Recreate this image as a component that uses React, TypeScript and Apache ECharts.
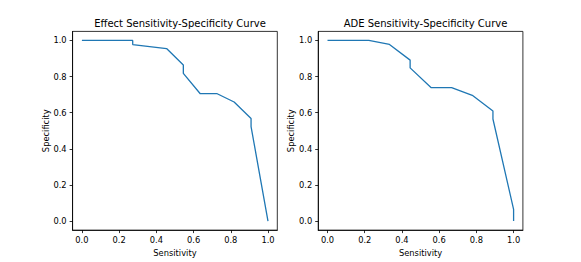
import React, { useEffect, useRef } from "react";
import * as echarts from "echarts";

const effectSensitivity = [0, 0.273, 0.273, 0.455, 0.545, 0.545, 0.636, 0.727, 0.818, 0.909, 0.909, 1.0];
const effectSpecificity = [1.0, 1.0, 0.977, 0.955, 0.864, 0.818, 0.705, 0.705, 0.659, 0.568, 0.523, 0.0];

const adeSensitivity = [0, 0.222, 0.333, 0.444, 0.444, 0.556, 0.667, 0.778, 0.889, 0.889, 1.0, 1.0];
const adeSpecificity = [1.0, 1.0, 0.978, 0.891, 0.848, 0.739, 0.739, 0.696, 0.609, 0.565, 0.065, 0.0];

const tickValues = [0, 0.2, 0.4, 0.6, 0.8, 1.0];
const titles = ["Effect Sensitivity-Specificity Curve", "ADE Sensitivity-Specificity Curve"];

const FONT = "DejaVu Sans";

export default function App() {
  const ref = useRef<HTMLDivElement>(null);
  useEffect(() => {
    if (!ref.current) return;
    const chart = echarts.init(ref.current, undefined, { renderer: "svg" });
    const grids = [
      { left: 72.6, top: 31.4, width: 204.7, height: 201.8 },
      { left: 318.2, top: 31.4, width: 204.7, height: 201.8 },
    ];
    const axisCommon = (gridIndex: number, name: string, isX: boolean) => ({
      gridIndex,
      type: "value",
      min: -0.05,
      max: 1.05,
      name,
      nameLocation: "middle",
      nameGap: isX ? 16 : 22,
      nameTextStyle: { color: "#000", fontSize: 8.3, fontFamily: FONT },
      axisLine: { show: true, onZero: false, lineStyle: { color: "#000", width: 0.8 } },
      axisTick: { show: true, length: 3, lineStyle: { color: "#000", width: 0.8 }, customValues: tickValues },
      axisLabel: {
        customValues: tickValues,
        formatter: (v: number) => v.toFixed(1),
        color: "#000",
        fontSize: 8.3,
        fontFamily: FONT,
        margin: 6,
      },
      splitLine: { show: false },
    });
    const makeData = (xs: number[], ys: number[]) => xs.map((x, i) => [x, ys[i]]);
    chart.setOption({
      animation: false,
      backgroundColor: "#fff",
      title: titles.map((t, i) => ({
        text: t,
        left: i === 0 ? 175 : 420.5,
        textAlign: "center",
        top: 13.5,
        textStyle: { color: "#000", fontSize: 10, fontWeight: "normal", fontFamily: FONT },
      })),
      grid: grids.map((g) => ({ ...g, show: true, borderColor: "#000", borderWidth: 0.8, backgroundColor: "transparent" })),
      xAxis: [axisCommon(0, "Sensitivity", true), axisCommon(1, "Sensitivity", true)],
      yAxis: [axisCommon(0, "Specificity", false), axisCommon(1, "Specificity", false)],
      series: [
        {
          type: "line",
          xAxisIndex: 0,
          yAxisIndex: 0,
          data: makeData(effectSensitivity, effectSpecificity),
          showSymbol: false,
          lineStyle: { color: "#1f77b4", width: 1.3 },
        },
        {
          type: "line",
          xAxisIndex: 1,
          yAxisIndex: 1,
          data: makeData(adeSensitivity, adeSpecificity),
          showSymbol: false,
          lineStyle: { color: "#1f77b4", width: 1.3 },
        },
      ],
    });
    return () => chart.dispose();
  }, []);
  return <div ref={ref} style={{ position: "absolute", left: 0, top: 0, width: 581, height: 262 }} />;
}
